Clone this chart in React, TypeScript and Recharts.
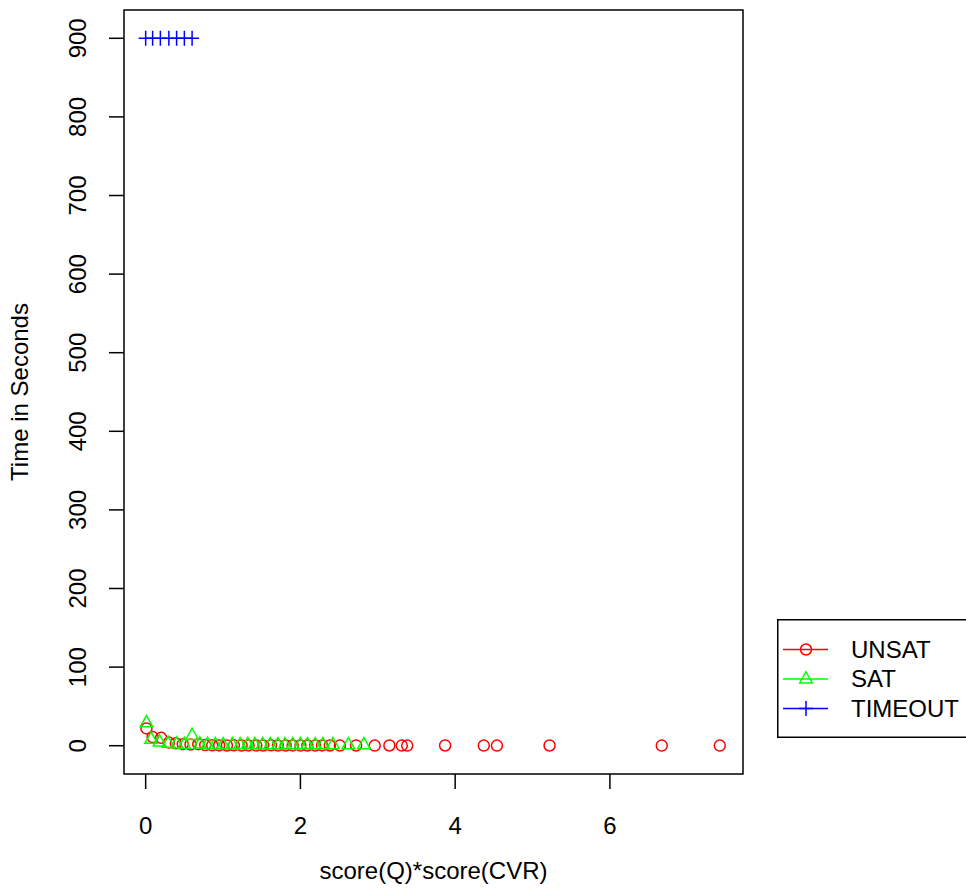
import { Legend, ReferenceArea, Scatter, ScatterChart, XAxis, YAxis } from 'recharts'

document.body.style.margin = '0'

const FONT = '"Liberation Sans", Arial, Helvetica, sans-serif'
const FS = 24

const unsatX = [0.01, 0.09, 0.2, 0.3, 0.39, 0.48, 0.58, 0.68, 0.77, 0.86, 0.95, 1.05, 1.14, 1.24, 1.33, 1.43, 1.52, 1.62, 1.71, 1.81, 1.9, 2.0, 2.09, 2.19, 2.28, 2.38, 2.51, 2.72, 2.96, 3.15, 3.31, 3.38, 3.87, 4.37, 4.54, 5.22, 6.67, 7.42]
const unsatY = [22, 11, 10, 4, 3, 2, 1.5, 2, 0.8, 0.5, 0.4, 0.3, 0.5, 0.3, 0.4, 0.2, 0.3, 0.5, 0.2, 0.3, 0.4, 0.2, 0.3, 0.2, 0.4, 0.3, 0.2, 0.3, 0.2, 0.3, 0.2, 0.2, 0.3, 0.2, 0.2, 0.3, 0.2, 0.2]
const satX = [0.01, 0.07, 0.18, 0.29, 0.4, 0.5, 0.6, 0.7, 0.8, 0.9, 1.0, 1.12, 1.22, 1.32, 1.41, 1.51, 1.61, 1.71, 1.8, 1.9, 2.0, 2.09, 2.19, 2.29, 2.42, 2.62, 2.82]
const satY = [29, 8, 4.5, 3, 2, 1.5, 13, 2, 1.5, 1.2, 1, 1.2, 1, 1.3, 1, 1.1, 1.2, 1, 1.1, 1, 1.2, 1, 1.1, 1, 1.2, 1, 1.1]
const timeoutX = [0, 0.09, 0.19, 0.3, 0.4, 0.5, 0.6]
const timeoutY = [900, 900, 900, 900, 900, 900, 900]

const seriesNames = ['UNSAT', 'SAT', 'TIMEOUT']
const seriesColors = ['#FF0000', '#00FF00', '#0000FF']

const xTicks = [0, 2, 4, 6]
const yTicks = [0, 100, 200, 300, 400, 500, 600, 700, 800, 900]
const xDomain: [number, number] = [-0.28, 7.72]
const yDomain: [number, number] = [-36, 936]

const zip = (xs: number[], ys: number[]) => xs.map((x, i) => ({ x, y: ys[i] }))

const unsatData = zip(unsatX, unsatY)
const satData = zip(satX, satY)
const timeoutData = zip(timeoutX, timeoutY)

// R-style point symbols: pch 1, 2, 3
const Marker = ({ kind, cx, cy, color }: { kind: number; cx: number; cy: number; color: string }) => {
  if (kind === 0) return <circle cx={cx} cy={cy} r={5.5} fill="none" stroke={color} strokeWidth={1.5} />
  if (kind === 1)
    return (
      <polygon
        points={`${cx},${cy - 7.3} ${cx - 6.3},${cy + 3.9} ${cx + 6.3},${cy + 3.9}`}
        fill="none"
        stroke={color}
        strokeWidth={1.5}
      />
    )
  return <path d={`M${cx - 7},${cy}H${cx + 7}M${cx},${cy - 7.5}V${cy + 7.5}`} stroke={color} strokeWidth={1.5} />
}

const YTick = ({ x, y, payload }: any) => (
  <text x={x} y={y} transform={`rotate(-90, ${x}, ${y})`} textAnchor="middle" dy="0.35em" fontSize={FS} fontFamily={FONT} fill="#000">
    {payload.value}
  </text>
)

const XTick = ({ x, y, payload }: any) => (
  <text x={x} y={y} textAnchor="middle" dy="0.71em" fontSize={FS} fontFamily={FONT} fill="#000">
    {payload.value}
  </text>
)

const LegendBox = () => (
  <svg width={189} height={120} style={{ display: 'block' }}>
    <rect x={0.75} y={0.75} width={240} height={117.5} fill="none" stroke="#000" strokeWidth={1.5} />
    {seriesNames.map((name, i) => {
      const cy = 30.5 + i * 29.5
      return (
        <g key={name}>
          <line x1={6} x2={51} y1={cy} y2={cy} stroke={seriesColors[i]} strokeWidth={1.5} />
          <Marker kind={i} cx={29} cy={cy} color={seriesColors[i]} />
          <text x={74} y={cy} dy="0.35em" fontSize={FS} fontFamily={FONT} fill="#000">
            {name}
          </text>
        </g>
      )
    })}
  </svg>
)

export default function App() {
  return (
    <div style={{ width: 966, height: 896, overflow: 'hidden', background: '#fff' }}>
      <ScatterChart width={966} height={896} margin={{ top: 10, right: 223, bottom: 0, left: 0 }}>
        <XAxis
          type="number"
          dataKey="x"
          domain={xDomain}
          ticks={xTicks}
          allowDataOverflow
          axisLine={false}
          tickLine={{ stroke: '#000', strokeWidth: 1.5 }}
          tickSize={15}
          tickMargin={28}
          height={122}
          tick={<XTick />}
          label={({ viewBox }: any) => (
            <text x={viewBox.x + viewBox.width / 2} y={viewBox.y + 97} textAnchor="middle" dy="0.35em" fontSize={FS} fontFamily={FONT} fill="#000">
              score(Q)*score(CVR)
            </text>
          )}
        />
        <YAxis
          type="number"
          dataKey="y"
          domain={yDomain}
          ticks={yTicks}
          allowDataOverflow
          axisLine={false}
          tickLine={{ stroke: '#000', strokeWidth: 1.5 }}
          tickSize={15}
          tickMargin={31}
          width={124}
          tick={<YTick />}
          label={({ viewBox }: any) => {
            const cx = viewBox.x + 20
            const cy = viewBox.y + viewBox.height / 2
            return (
              <text x={cx} y={cy} transform={`rotate(-90, ${cx}, ${cy})`} textAnchor="middle" dy="0.35em" fontSize={FS} fontFamily={FONT} fill="#000">
                Time in Seconds
              </text>
            )
          }}
        />
        <ReferenceArea x1={xDomain[0]} x2={xDomain[1]} y1={yDomain[0]} y2={yDomain[1]} fill="none" stroke="#000" strokeWidth={1.5} fillOpacity={0} />
        <Scatter name={seriesNames[0]} data={unsatData} isAnimationActive={false} shape={(p: any) => <Marker kind={0} cx={p.cx} cy={p.cy} color={seriesColors[0]} />} />
        <Scatter name={seriesNames[1]} data={satData} isAnimationActive={false} shape={(p: any) => <Marker kind={1} cx={p.cx} cy={p.cy} color={seriesColors[1]} />} />
        <Scatter name={seriesNames[2]} data={timeoutData} isAnimationActive={false} shape={(p: any) => <Marker kind={2} cx={p.cx} cy={p.cy} color={seriesColors[2]} />} />
        <Legend
          layout="horizontal"
          verticalAlign="middle"
          align="center"
          wrapperStyle={{ left: 777, top: 619, width: 189, height: 120 }}
          content={() => <LegendBox />}
        />
      </ScatterChart>
    </div>
  )
}
